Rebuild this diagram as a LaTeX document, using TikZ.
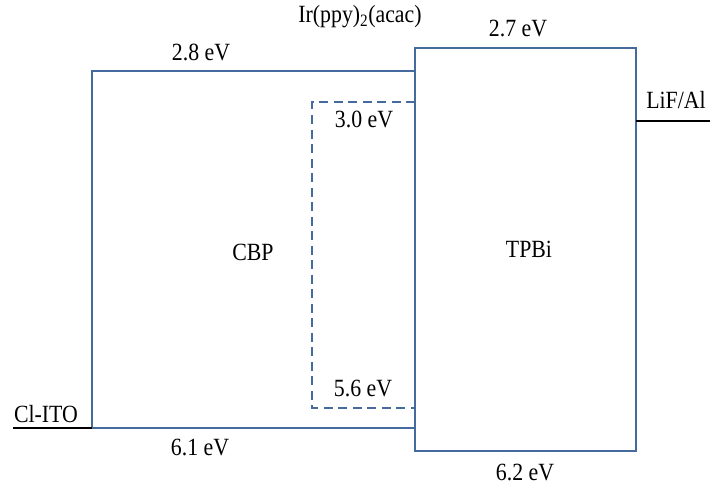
\documentclass[tikz,border=0pt]{standalone}
\usepackage{fontspec}
\setmainfont{Liberation Serif}
\definecolor{lvl}{RGB}{68,106,158}
\newcommand{\tall}[1]{\scalebox{0.97}[1.1]{#1}}
\begin{document}
\begin{tikzpicture}[x=1pt,y=-1pt,
  lev/.style={draw=lvl,line width=2.3pt},
  dlev/.style={draw=lvl,line width=2.3pt,dash pattern=on 9pt off 5.5pt},
  elec/.style={draw=black,line width=2.4pt},
  lbl/.style={font=\fontsize{22.5}{26}\selectfont,inner sep=0pt,anchor=base}]
\useasboundingbox (0,0) rectangle (710,487);
% coordinates
\coordinate (cbpTL) at (92,71);
\coordinate (cbpBL) at (92,428);
\coordinate (cbpTR) at (415,71);
\coordinate (cbpBR) at (415,428);
\coordinate (dTL) at (312,102);
\coordinate (dBL) at (312,408);
\coordinate (dTR) at (415,102);
\coordinate (dBR) at (415,408);
\coordinate (itoL) at (13,428);
\coordinate (lifR) at (710,121);
\coordinate (lifL) at (636,121);
% CBP
\draw[lev] (cbpTR) -- (cbpTL) -- (cbpBL) -- (cbpBR);
% Ir(ppy)2(acac) dashed
\draw[dlev] (dTR) -- (dTL) -- (dBL) -- (dBR);
% TPBi
\draw[lev] (415,48) rectangle (636,451);
% electrodes
\draw[elec] (itoL) -- (cbpBL);
\draw[elec] (lifL) -- (lifR);
% labels
\node[lbl] (ir) at (360,23) {\tall{Ir(ppy)\textsubscript{2}(acac)}};
\node[lbl] (e27) at (518,37) {\tall{2.7 eV}};
\node[lbl] (e28) at (201,61) {\tall{2.8 eV}};
\node[lbl] (e30) at (364,127) {\tall{3.0 eV}};
\node[lbl] (cbp) at (253,260) {\tall{CBP}};
\node[lbl] (tpbi) at (529,257) {\tall{TPBi}};
\node[lbl] (e56) at (363,396) {\tall{5.6 eV}};
\node[lbl] (e61) at (200,455) {\tall{6.1 eV}};
\node[lbl] (e62) at (525,480) {\tall{6.2 eV}};
\node[lbl] (ito) at (46,422) {\tall{Cl-ITO}};
\node[lbl] (lif) at (676,108) {\tall{LiF/Al}};
\end{tikzpicture}
\end{document}
